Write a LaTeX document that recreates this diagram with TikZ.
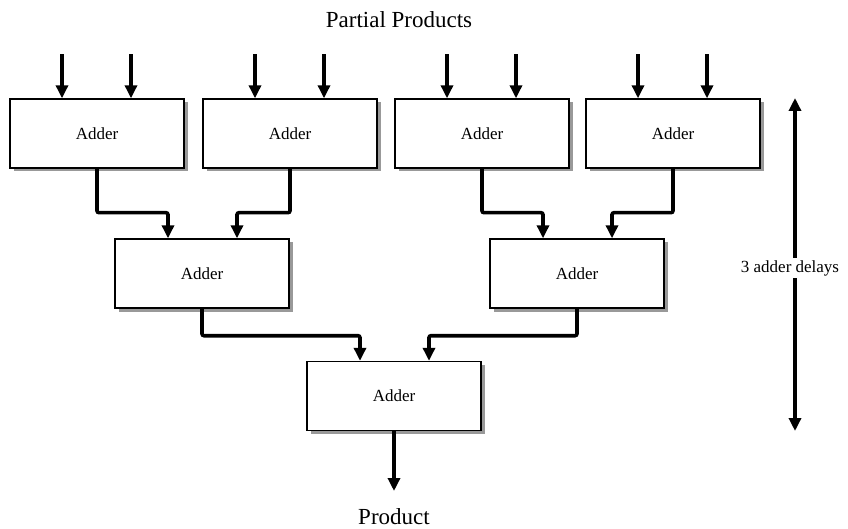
\documentclass[tikz,border=0pt]{standalone}
\usepackage{fontspec}
\setmainfont{Liberation Serif}
\usetikzlibrary{shadows,arrows.meta}
\begin{document}
\begin{tikzpicture}[x=1pt,y=-1pt,
  adder/.style={draw,line width=1.4pt,fill=white,minimum width=174pt,minimum height=69pt,inner sep=0pt,
    font=\fontsize{17}{20}\selectfont,
    drop shadow={shadow xshift=3.5pt,shadow yshift=-3.5pt,fill=black!40,opacity=1}},
  wire/.style={line width=3.6pt,-{Triangle[length=13pt,width=12pt]}},
  title/.style={font=\fontsize{23}{27}\selectfont}]
\useasboundingbox (0,0) rectangle (848,529);
\node[adder] (a1) at (97,133.5) {Adder};
\node[adder] (a2) at (290,133.5) {Adder};
\node[adder] (a3) at (482,133.5) {Adder};
\node[adder] (a4) at (673,133.5) {Adder};
\node[adder] (a5) at (202,273.5) {Adder};
\node[adder] (a6) at (577,273.5) {Adder};
\node[adder] (a7) at (394,396) {Adder};
\node[title] (pp) at (399,20) {Partial Products};
\node[title] (pr) at (394,517) {Product};
\foreach \n in {a1,a2,a3,a4}{
  \coordinate (\n l) at ([xshift=-35pt,yshift=44pt]\n.north);
  \coordinate (\n r) at ([xshift=34pt,yshift=44pt]\n.north);
  \draw[wire] (\n l) -- ([xshift=-35pt]\n.north);
  \draw[wire] (\n r) -- ([xshift=34pt]\n.north);
}
\draw[wire,rounded corners=2pt] (a1.south) -- ++(0,44) -| ([xshift=-34pt]a5.north);
\draw[wire,rounded corners=2pt] (a2.south) -- ++(0,44) -| ([xshift=35pt]a5.north);
\draw[wire,rounded corners=2pt] (a3.south) -- ++(0,44) -| ([xshift=-34pt]a6.north);
\draw[wire,rounded corners=2pt] (a4.south) -- ++(0,44) -| ([xshift=35pt]a6.north);
\draw[wire,rounded corners=2pt] (a5.south) -- ++(0,27) -| ([xshift=-34pt]a7.north);
\draw[wire,rounded corners=2pt] (a6.south) -- ++(0,27) -| ([xshift=35pt]a7.north);
\coordinate (out) at (394,491);
\draw[wire] (a7.south) -- (out);
\coordinate (dt) at (795,98);
\coordinate (db) at (795,431);
\draw[line width=3.6pt,{Triangle[length=13pt,width=12pt]}-{Triangle[length=13pt,width=12pt]}] (dt) -- (db);
\node[fill=white,inner sep=2pt,font=\fontsize{17}{20}\selectfont] (dl) at (790,268) {3 adder delays};
\end{tikzpicture}
\end{document}
